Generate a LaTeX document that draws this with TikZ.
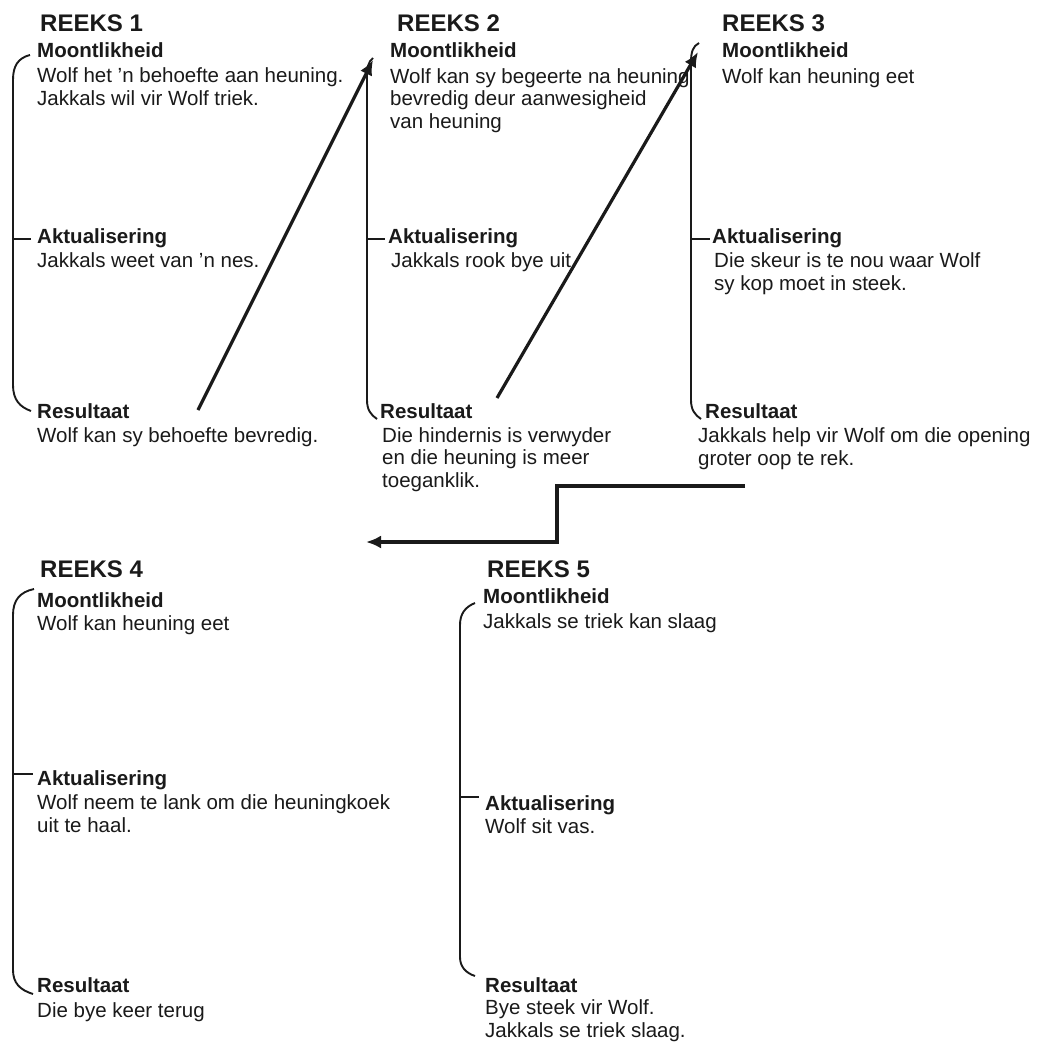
\documentclass[tikz,border=0pt]{standalone}
\usepackage{fontspec}
\setmainfont{Liberation Sans}
\usetikzlibrary{
  arrows.meta,
  positioning
}
\definecolor{rkInk}{HTML}{1A1A1A}
\tikzset{
  reeks/.style={anchor=base west, inner sep=0pt, text=rkInk,
    font=\fontsize{24}{27}\selectfont\bfseries},
  fase/.style={anchor=base west, inner sep=0pt, text=rkInk,
    font=\fontsize{20.5}{22}\selectfont\bfseries},
  body/.style={anchor=base west, inner sep=0pt, text=rkInk, align=left,
    font=\fontsize{20.5}{22.5}\selectfont},
  hook/.style={draw=rkInk, line width=1.9pt},
  link/.style={draw=rkInk, line width=3.2pt, -{Latex[length=15pt,width=13pt]}}
}

\begin{document}
\begin{tikzpicture}[x=1pt, y=-1pt]
  \path[use as bounding box, fill=white] (0,0) rectangle (1050,1047);

  % reeks 1 (body nodes sit on the baseline of their last line)
  \node[reeks] (t1) at (40,31) {REEKS 1};
  \node[fase] (m1) at (37,57) {Moontlikheid};
  \node[body] (m1t) at (37,105) {Wolf het 'n behoefte aan heuning.\\Jakkals wil vir Wolf triek.};
  \node[fase] (a1) at (37,243) {Aktualisering};
  \node[body] (a1t) at (37,267) {Jakkals weet van 'n nes.};
  \node[fase] (r1) at (37,418) {Resultaat};
  \node[body] (r1t) at (37,442) {Wolf kan sy behoefte bevredig.};
  \draw[hook] (30,55) .. controls (18,58) and (13,66) .. (13,80) -- (13,385)
    .. controls (13,400) and (20,407) .. (31,411);
  \draw[hook] (13,239) -- (31,239);

  % reeks 2
  \node[reeks] (t2) at (397,31) {REEKS 2};
  \node[fase] (m2) at (390,57) {Moontlikheid};
  \node[body] (m2t) at (390,128) {Wolf kan sy begeerte na heuning\\bevredig deur aanwesigheid\\van heuning};
  \node[fase] (a2) at (388,243) {Aktualisering};
  \node[body] (a2t) at (391,267) {Jakkals rook bye uit.};
  \node[fase] (r2) at (380,418) {Resultaat};
  \node[body] (r2t) at (382,487) {Die hindernis is verwyder\\en die heuning is meer\\toeganklik.};
  \draw[hook] (373,58) .. controls (368,62) and (367,68) .. (367,76) -- (367,400)
    .. controls (367,410) and (371,415) .. (377,419);
  \draw[hook] (367,239) -- (385,239);

  % reeks 3
  \node[reeks] (t3) at (722,31) {REEKS 3};
  \node[fase] (m3) at (722,57) {Moontlikheid};
  \node[body] (m3t) at (722,83) {Wolf kan heuning eet};
  \node[fase] (a3) at (712,243) {Aktualisering};
  \node[body] (a3t) at (714,290) {Die skeur is te nou waar Wolf\\sy kop moet in steek.};
  \node[fase] (r3) at (705,418) {Resultaat};
  \node[body] (r3t) at (698,465) {Jakkals help vir Wolf om die opening\\groter oop te rek.};
  \draw[hook] (699,43) .. controls (693,46) and (691,52) .. (691,62) -- (691,400)
    .. controls (691,410) and (695,415) .. (701,419);
  \draw[hook] (691,239) -- (710,239);

  % reeks 4
  \node[reeks] (t4) at (40,577) {REEKS 4};
  \node[fase] (m4) at (37,607) {Moontlikheid};
  \node[body] (m4t) at (37,630) {Wolf kan heuning eet};
  \node[fase] (a4) at (37,785) {Aktualisering};
  \node[body] (a4t) at (37,832) {Wolf neem te lank om die heuningkoek\\uit te haal.};
  \node[fase] (r4) at (37,992) {Resultaat};
  \node[body] (r4t) at (37,1017) {Die bye keer terug};
  \draw[hook] (34,589) .. controls (20,592) and (13,600) .. (13,615) -- (13,970)
    .. controls (13,983) and (20,990) .. (33,994);
  \draw[hook] (13,774) -- (33,774);

  % reeks 5
  \node[reeks] (t5) at (487,577) {REEKS 5};
  \node[fase] (m5) at (483,603) {Moontlikheid};
  \node[body] (m5t) at (483,628) {Jakkals se triek kan slaag};
  \node[fase] (a5) at (485,810) {Aktualisering};
  \node[body] (a5t) at (485,833) {Wolf sit vas.};
  \node[fase] (r5) at (485,992) {Resultaat};
  \node[body] (r5t) at (485,1037) {Bye steek vir Wolf.\\Jakkals se triek slaag.};
  \draw[hook] (475,603) .. controls (465,607) and (460,614) .. (460,625) -- (460,957)
    .. controls (460,967) and (466,973) .. (475,976);
  \draw[hook] (460,797) -- (479,797);

  % oorgange
  \coordinate (r1tail) at (198,410);
  \coordinate (b2top) at (373,60);
  \coordinate (r2tail) at (497,398);
  \coordinate (b3top) at (698,52);
  \coordinate (r3tail) at (745,486);
  \coordinate (jog) at (557,542);
  \coordinate (b4head) at (366,542);
  \draw[link] (r1tail) -- (b2top);
  \draw[link] (r2tail) -- (b3top);
  \draw[link] (r3tail) -| (jog) -- (b4head);
\end{tikzpicture}
\end{document}
